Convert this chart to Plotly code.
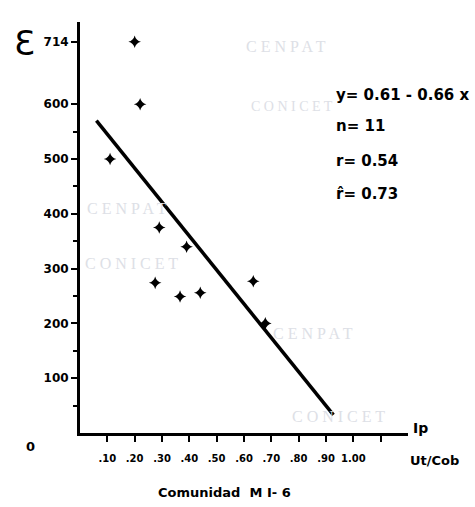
import plotly.graph_objects as go

# ---- data ----
ip_values = [0.20, 0.22, 0.11, 0.29, 0.39, 0.275, 0.366, 0.44, 0.634, 0.678]
eps_values = [714, 600, 500, 375, 340, 274, 249, 256, 277, 200]
fit_x = [0.06, 0.927]
fit_y = [570, 33]

y_tick_vals = [100, 200, 300, 400, 500, 600, 714]
y_tick_text = ["100", "200", "300", "400", "500", "600", "714"]
y_minor_vals = [50, 150, 250, 350, 450, 550]
x_tick_vals = [0.1, 0.2, 0.3, 0.4, 0.5, 0.6, 0.7, 0.8, 0.9, 1.0, 1.1]
x_tick_text = [".10", ".20", ".30", ".40", ".50", ".60", ".70", ".80", ".90", "1.00", ""]

stats_lines = ["y= 0.61 - 0.66 x", "n= 11", "r= 0.54", "r\u0302= 0.73"]
watermark_text = ["C E N P A T", "C O N I C E T", "C E N P A T", "C O N I C E T",
                  "C E N P A T", "C O N I C E T"]
watermark_x = [0.60, 0.62, 0.02, 0.01, 0.70, 0.77]
watermark_y = [705, 596, 410, 310, 182, 30]

FONT = "DejaVu Sans"
BLACK = "#000000"

fig = go.Figure()

fig.add_trace(go.Scatter(
    x=fit_x, y=fit_y, mode="lines",
    line=dict(color=BLACK, width=3.5), hoverinfo="skip", showlegend=False))

fig.add_trace(go.Scatter(
    x=ip_values, y=eps_values, mode="markers",
    marker=dict(symbol="star-diamond", size=9, color=BLACK),
    cliponaxis=False, showlegend=False))

ann = []
for i, (text, wx, wy) in enumerate(zip(watermark_text, watermark_x, watermark_y)):
    ann.append(dict(x=wx, y=wy, xref="x", yref="y", text=text, showarrow=False,
                    font=dict(family="Liberation Serif", size=14 if i == 1 else 16,
                              color="#dde0e6"),
                    xanchor="left", yanchor="middle"))

stat_y = [617, 560, 497, 437]
for t, yy in zip(stats_lines, stat_y):
    ann.append(dict(x=0.93, y=yy, xref="x", yref="y", text="<b>" + t + "</b>",
                    showarrow=False, xanchor="left", yanchor="middle",
                    font=dict(family=FONT, size=15, color=BLACK)))

ann += [
    dict(x=-0.168, y=0.95, xref="paper", yref="paper", text="\u0190", showarrow=False,
         xanchor="center", yanchor="middle",
         font=dict(family=FONT, size=34, color=BLACK)),
    dict(x=-0.152, y=-0.032, xref="paper", yref="paper", text="<b>0</b>", showarrow=False,
         xanchor="center", yanchor="middle", font=dict(family=FONT, size=13, color=BLACK)),
    dict(x=1.01, y=0.012, xref="paper", yref="paper", text="<b>Ip</b>", showarrow=False,
         xanchor="left", yanchor="middle", font=dict(family=FONT, size=14, color=BLACK)),
    dict(x=1.0, y=-0.068, xref="paper", yref="paper", text="<b>Ut/Cob</b>", showarrow=False,
         xanchor="left", yanchor="middle", font=dict(family=FONT, size=13, color=BLACK)),
    dict(x=0.44, y=-0.145, xref="paper", yref="paper", text="<b>Comunidad  M I- 6</b>",
         showarrow=False, xanchor="center", yanchor="middle",
         font=dict(family=FONT, size=13, color=BLACK)),
]

fig.update_layout(
    width=475, height=507,
    margin=dict(l=80, r=67, t=22, b=74),
    paper_bgcolor="white", plot_bgcolor="white",
    annotations=ann,
    xaxis=dict(range=[0, 1.2], showgrid=False, zeroline=False, automargin=False,
               showline=True, linecolor=BLACK, linewidth=3,
               ticks="outside", ticklen=6, tickwidth=2, tickcolor=BLACK,
               tickvals=x_tick_vals, ticktext=x_tick_text,
               ticklabelstandoff=8,
               tickfont=dict(family=FONT, size=10, color=BLACK, weight="bold")),
    yaxis=dict(range=[0, 750], showgrid=False, zeroline=False, automargin=False,
               showline=True, linecolor=BLACK, linewidth=3,
               ticks="outside", ticklen=6, tickwidth=2, tickcolor=BLACK,
               tickvals=y_tick_vals, ticktext=y_tick_text,
               minor=dict(tickvals=y_minor_vals, ticks="outside", ticklen=4,
                          tickwidth=2, tickcolor=BLACK),
               tickfont=dict(family=FONT, size=12, color=BLACK, weight="bold")),
)

fig.write_html("out.html", config={"displayModeBar": False},
               post_script="document.body.style.margin='0';")
